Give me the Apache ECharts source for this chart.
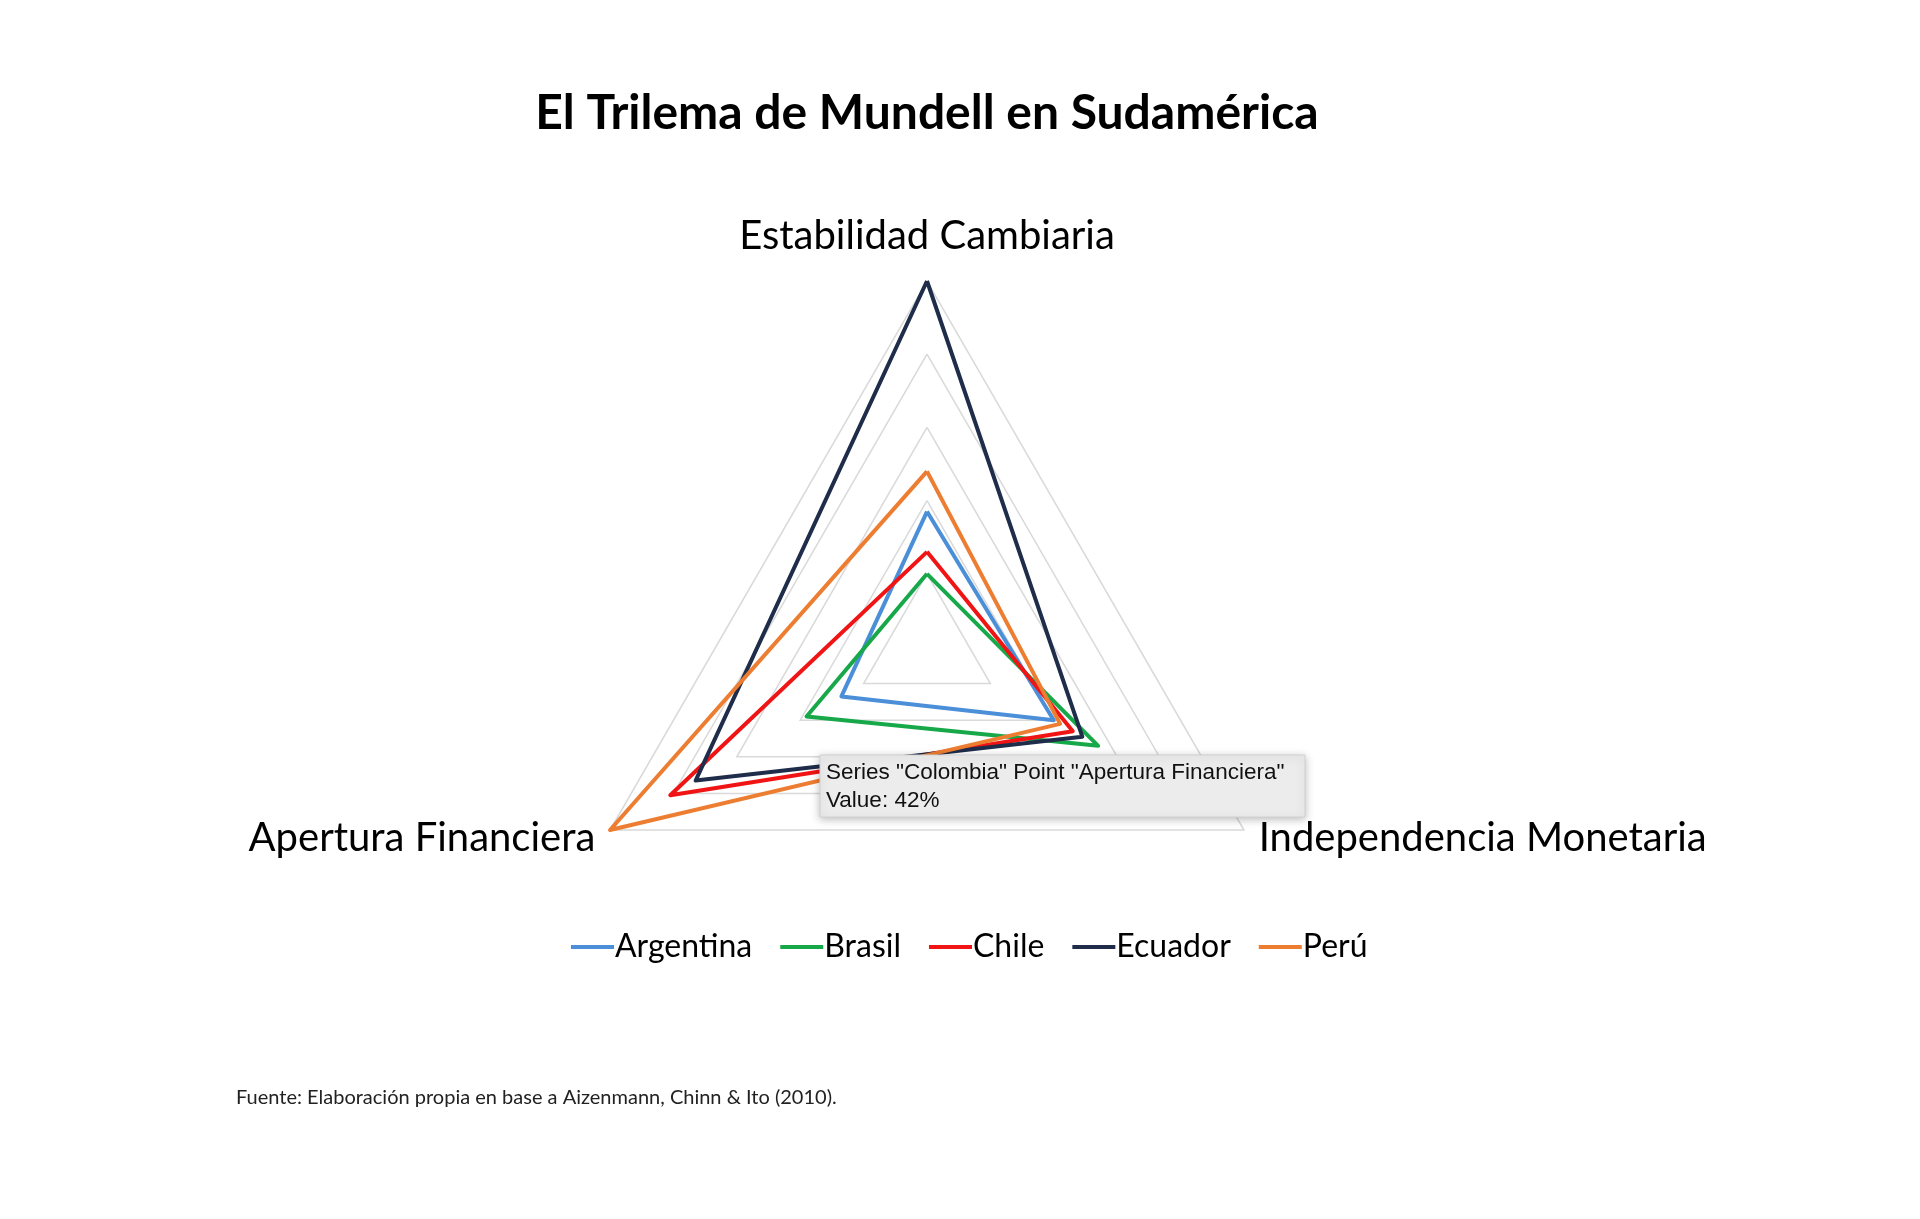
<!DOCTYPE html>
<html>
<head>
<meta charset="utf-8">
<script src="https://cdn.jsdelivr.net/npm/echarts@6/dist/echarts.min.js"></script>
<style>
html,body{margin:0;padding:0;background:#fff;}
#chart{width:1920px;height:1219px;}
</style>
</head>
<body>
<div id="chart"></div>
<script>
// ---- data ----
const indicators = ['Estabilidad Cambiaria', 'Apertura Financiera', 'Independencia Monetaria'];
const countries = ['Argentina', 'Brasil', 'Chile', 'Ecuador', 'Perú'];
const argentina = [37, 27, 40];
const brasil = [20, 38, 54];
const chile = [26, 81, 46];
const ecuador = [100, 73, 49];
const peru = [48, 100, 42];
const colors = ['#4a8fd8', '#17a84a', '#f01414', '#1f2d4a', '#ed7d31'];
const titleText = 'El Trilema de Mundell en Sudamérica';
const sourceText = 'Fuente: Elaboración propia en base a Aizenmann, Chinn & Ito (2010).';
const tipLine1 = 'Series "Colombia" Point "Apertura Financiera"';
const tipLine2 = 'Value: 42%';

const values = [argentina, brasil, chile, ecuador, peru];

const chart = echarts.init(document.getElementById('chart'), null, {renderer: 'canvas'});
const FONT = 'Lato, "Noto Sans", sans-serif';

const option = {
  backgroundColor: '#ffffff',
  animation: false,
  color: colors,
  legend: {
    data: countries,
    left: 566,
    top: 926,
    icon: 'rect',
    itemWidth: 43,
    itemHeight: 4,
    itemGap: 28,
    textStyle: {fontFamily: FONT, fontSize: 32, color: '#000', padding: [0, 0, 0, -4]}
  },
  radar: {
    center: [927, 647],
    radius: 366,
    startAngle: 90,
    splitNumber: 5,
    shape: 'polygon',
    nameGap: 17,
    indicator: indicators.map(n => ({name: n, min: 0, max: 100})),
    axisName: {
      color: '#000',
      fontFamily: FONT,
      fontSize: 40,
      formatter: function (name) {
        return name === indicators[0] ? '{top|' + name + '}' : name;
      },
      rich: {
        top: {fontFamily: FONT, fontSize: 40, color: '#000', padding: [0, 0, 8, 0]}
      }
    },
    splitLine: {lineStyle: {color: '#d9d9d9', width: 1.5}},
    splitArea: {show: false},
    axisLine: {show: false},
    axisTick: {show: false},
    axisLabel: {show: false}
  },
  series: countries.map((c, i) => ({
    name: c,
    type: 'radar',
    symbol: 'none',
    lineStyle: {width: 4, color: colors[i]},
    itemStyle: {color: colors[i]},
    data: [{value: values[i], name: c}]
  })),
  graphic: [
    {
      type: 'text', x: 927, y: 114, z: 10,
      style: {text: titleText, font: 'bold 48px ' + FONT, fill: '#000',
        align: 'center', verticalAlign: 'middle', textAlign: 'center', textVerticalAlign: 'middle'}
    },
    {
      type: 'text', x: 236, y: 1098, z: 10,
      style: {text: sourceText, font: '20px ' + FONT, fill: '#222',
        align: 'left', verticalAlign: 'middle', textAlign: 'left', textVerticalAlign: 'middle'}
    },
    {
      type: 'group', z: 100,
      children: [
        {
          type: 'rect', shape: {x: 820, y: 755, width: 485, height: 62},
          style: {fill: '#ececec', stroke: '#d0d0d0', lineWidth: 1,
            shadowBlur: 8, shadowColor: 'rgba(0,0,0,0.25)', shadowOffsetY: 2},
          z: 100
        },
        {
          type: 'text', x: 826, y: 773, z: 101,
          style: {text: tipLine1, font: '22.5px "Liberation Sans", Arial, sans-serif', fill: '#111',
            align: 'left', verticalAlign: 'middle', textAlign: 'left', textVerticalAlign: 'middle'}
        },
        {
          type: 'text', x: 826, y: 801, z: 101,
          style: {text: tipLine2, font: '22.5px "Liberation Sans", Arial, sans-serif', fill: '#111',
            align: 'left', verticalAlign: 'middle', textAlign: 'left', textVerticalAlign: 'middle'}
        }
      ]
    }
  ]
};
chart.setOption(option);
</script>
</body>
</html>
